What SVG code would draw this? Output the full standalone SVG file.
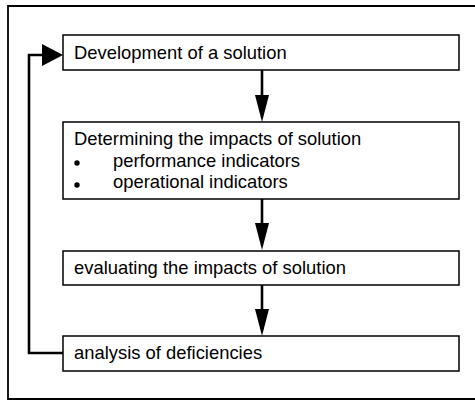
<svg xmlns="http://www.w3.org/2000/svg" width="475" height="401" viewBox="0 0 475 401">
<style>
.frame{fill:none;stroke:#000;stroke-width:1.8}
.box{fill:#fff;stroke:#000;stroke-width:1.5}
.t{font-family:"Liberation Sans",Arial,sans-serif;font-size:18.4px;fill:#000}
.c{fill:none;stroke:#000;stroke-width:2.6}
</style>
<defs>
<marker id="ah" markerWidth="27" markerHeight="14" refX="15" refY="7" orient="auto" markerUnits="userSpaceOnUse" viewBox="0 0 27 14">
<path d="M0,0 L27,7 L0,14 Z" fill="#000"/>
</marker>
<marker id="ahs" markerWidth="21" markerHeight="22" refX="10" refY="11" orient="auto" markerUnits="userSpaceOnUse" viewBox="0 0 21 22">
<path d="M0,0 L21,11 L0,22 Z" fill="#000"/>
</marker>
</defs>
<path class="frame" d="M476,6 H8 V399 H476"/>
<g id="connectors">
<path class="c" d="M262,70 V110" marker-end="url(#ah)"/>
<path class="c" d="M262,199 V238" marker-end="url(#ah)"/>
<path class="c" d="M262,285 V324" marker-end="url(#ah)"/>
<path class="c" d="M63,353 H29 V55 H52" marker-end="url(#ahs)"/>
</g>
<g id="n1">
<rect class="box" x="63" y="35" width="396" height="35"/>
<text class="t" x="74" y="59">Development of a solution</text>
</g>
<g id="n2">
<rect class="box" x="63" y="122" width="396" height="77"/>
<text class="t" x="74" y="145">Determining the impacts of solution</text>
<circle cx="77" cy="163" r="2.7"/>
<text class="t" x="113" y="167">performance indicators</text>
<circle cx="77" cy="185" r="2.7"/>
<text class="t" x="113" y="188">operational indicators</text>
</g>
<g id="n3">
<rect class="box" x="63" y="251" width="396" height="34"/>
<text class="t" x="74" y="274">evaluating the impacts of solution</text>
</g>
<g id="n4">
<rect class="box" x="63" y="336" width="396" height="35"/>
<text class="t" x="74" y="359">analysis of deficiencies</text>
</g>
</svg>
